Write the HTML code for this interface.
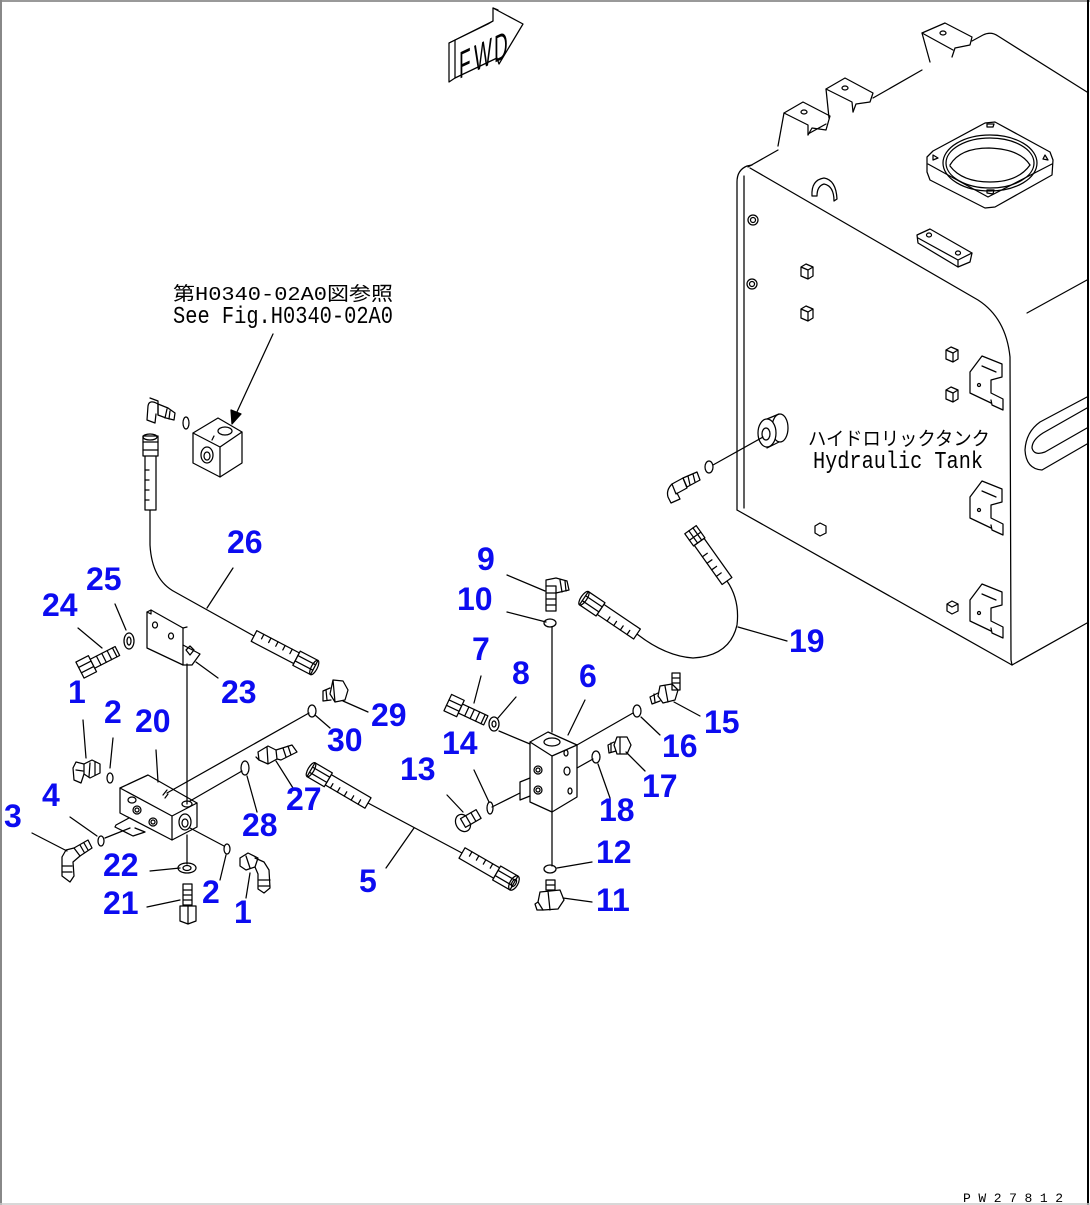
<!DOCTYPE html>
<html><head><meta charset="utf-8">
<style>
html,body{margin:0;padding:0;background:#fff;}
svg{display:block}
.l{fill:none;stroke:#000;stroke-width:1.25;stroke-linejoin:round;stroke-linecap:round}
.w{fill:#fff;stroke:#000;stroke-width:1.25;stroke-linejoin:round}
.n{font-family:"Liberation Sans",sans-serif;font-weight:bold;font-size:32px;fill:#0c0cf0}
.m{font-family:"Liberation Mono",monospace;font-size:20px;fill:#000}
.j{font-family:"Liberation Mono","Noto Sans CJK JP",monospace;font-size:19px;fill:#000}
.f{font-family:"Liberation Sans",sans-serif;font-size:38px;fill:#000}
</style></head><body>
<svg width="1090" height="1205" viewBox="0 0 1090 1205" xmlns="http://www.w3.org/2000/svg">
<rect width="1090" height="1205" fill="#fff"/>
<!-- borders -->
<line x1="0" y1="1" x2="1090" y2="1" stroke="#999" stroke-width="2"/>
<line x1="1" y1="0" x2="1" y2="1205" stroke="#888" stroke-width="2"/>
<line x1="1088" y1="0" x2="1088" y2="1205" stroke="#000" stroke-width="2"/>
<line x1="0" y1="1204" x2="1090" y2="1204" stroke="#ccc" stroke-width="1.5"/>

<!-- FWD arrow -->
<g class="l">
<path d="M455,40 L493,21 L493,8 L523,24 L499,64 L497,58 L455,78 Z"/>
<path d="M455,40 L449,43 L449,82 L455,78"/>
<path d="M449,43 L488,24 L493,21"/>
<path d="M493,8 L498,10"/>
</g>
<text class="f" transform="translate(459,79) skewY(-25) scale(0.5,1)">F</text>
<text class="f" transform="translate(474,72) skewY(-25) scale(0.5,1)">W</text>
<text class="f" transform="translate(494,63) skewY(-25) scale(0.5,1)">D</text>

<!-- TANK -->
<g class="l">
<path d="M737,510 L737,182 Q737,170 747,166 L752,165"/>
<line x1="744" y1="176" x2="744" y2="508"/>
<path d="M748,167 L778,150 M808,134 L826,124 M873,98 L922,70 M972,41 L983,35 Q991,31 998,36 L1087,92"/>
<path d="M750,168 L978,300 Q1006,318 1010,357 L1011,660 L1012,665"/>
<line x1="737" y1="510" x2="1012" y2="665"/>
<line x1="1012" y1="665" x2="1087" y2="623"/>
<line x1="1027" y1="313" x2="1087" y2="280"/>
<!-- handle -->
<path d="M1087,397 L1040,422 Q1026,432 1025,450 Q1026,469 1042,470 L1087,444"/>
<path d="M1087,408 L1043,433 Q1032,440 1032,448 Q1034,456 1045,452 L1087,428"/>
<!-- top brackets -->
<path d="M778,146 L784,113 L803,102 L830,116 L826,130 L812,128 L808,135"/>
<path d="M784,113 L808,125 L808,135"/>
<ellipse cx="804" cy="112" rx="3" ry="2"/>
<path d="M829,118 L826,89 L845,78 L873,93 L870,102 L856,104 L853,112"/>
<path d="M826,89 L852,102 L853,112"/>
<ellipse cx="845" cy="88" rx="3" ry="2"/>
<path d="M930,62 L922,33 L945,23 L972,37 L970,45 L955,48 L952,57"/>
<path d="M922,33 L953,50"/>
<ellipse cx="943" cy="33" rx="3" ry="2"/>
<!-- flange -->
<path d="M927,157 L933,151 L985,123 L995,122 L1050,152 L1053,160 L1052,175 L995,207 L985,208 L930,180 L927,172 Z"/>
<path d="M928,164 L988,197 L1052,164"/>
<ellipse cx="990" cy="163" rx="47" ry="28"/>
<ellipse cx="990" cy="163" rx="44" ry="25"/>
<path d="M950,165 Q960,148 989,148 Q1020,149 1030,165"/>
<path d="M950,166 Q962,182 990,182 Q1018,182 1030,165"/>
<path d="M933,155 L938,158 L933,160 Z M1045,155 L1048,160 L1043,159 Z M987,124 L994,124 L993,127 L987,127 Z M987,190 L994,190 L993,194 L987,193 Z"/>
<!-- bar -->
<path d="M917,235 L930,229 L972,253 L970,262 L958,267 L918,243 Z"/>
<path d="M918,238 L958,260 L972,253 M958,260 L958,267"/>
<ellipse cx="929" cy="235" rx="2.5" ry="2"/>
<ellipse cx="958" cy="253" rx="2.5" ry="2"/>
<!-- hook -->
<path d="M812,196 Q811,180 824,178 Q836,180 837,199 L834,201 Q834,186 824,184 Q817,186 817,196 Z"/>
<!-- bolts & nuts on face -->
<circle cx="753" cy="220" r="5"/><circle cx="753" cy="220" r="2.5"/>
<circle cx="752" cy="284" r="5"/><circle cx="752" cy="284" r="2.5"/>
<path d="M801,267 L806,264 L813,267 L813,276 L808,279 L801,276 Z M801,267 L808,270 L813,267 M808,270 L808,279"/>
<path d="M801,309 L806,306 L813,309 L813,318 L808,321 L801,318 Z M801,309 L808,312 L813,309 M808,312 L808,321"/>
<path d="M946,350 L951,347 L958,350 L958,359 L953,362 L946,359 Z M946,350 L953,353 L958,350 M953,353 L953,362"/>
<path d="M946,390 L951,387 L958,390 L958,399 L953,402 L946,399 Z M946,390 L953,393 L958,390 M953,393 L953,402"/>
<path d="M815,526 L820,523 L826,526 L826,533 L820,536 L815,533 Z"/>
<path d="M947,604 L952,601 L958,604 L958,611 L952,614 L947,611 Z M947,604 L952,607 L958,604"/>
<!-- side clips -->
<path d="M970,372 L982,356 L1002,364 L1002,377 L991,380 L991,393 L1003,399 L1003,410 L992,405 L991,400 M970,372 L970,393 L991,403"/>
<path d="M982,366 L996,372"/><circle cx="979" cy="385" r="1.5"/>
<path d="M970,497 L982,481 L1002,489 L1002,502 L991,505 L991,518 L1003,524 L1003,535 L992,530 L991,525 M970,497 L970,518 L991,528"/>
<path d="M982,491 L996,497"/><circle cx="979" cy="510" r="1.5"/>
<path d="M970,600 L982,584 L1002,592 L1002,605 L991,608 L991,621 L1003,627 L1003,638 L992,633 L991,628 M970,600 L970,621 L991,631"/>
<path d="M982,594 L996,600"/><circle cx="979" cy="613" r="1.5"/>
<!-- boss -->
<path d="M767,419 L779,414 M767,448 L779,442"/>
<ellipse cx="780" cy="428" rx="8" ry="14"/>
<ellipse class="w" cx="767" cy="433" rx="9" ry="14"/>
<ellipse cx="766" cy="434" rx="4" ry="6"/>
<line x1="763" y1="437" x2="713" y2="465"/>
<ellipse cx="709" cy="467" rx="4" ry="6"/>
<!-- tank elbow -->
<path d="M683,478 L697,472 L700,480 L687,487 Z M688,476 L690,485 M693,474 L695,482"/>
<path d="M672,484 L683,478 L687,488 L676,494 Z"/>
<path d="M672,484 Q666,490 668,497 L671,503 L680,499 L677,493"/>
</g>
<text class="j" x="808" y="445" textLength="182" lengthAdjust="spacingAndGlyphs">ハイドロリックタンク</text>
<text class="m" transform="translate(813,468) scale(1,1.2)" textLength="170" lengthAdjust="spacingAndGlyphs">Hydraulic Tank</text>

<!-- hose 19 -->
<g class="l">
<path d="M637,634 Q665,656 693,658 Q730,656 737,625 Q740,600 727,581"/>
<g transform="translate(727,581) rotate(234.6)">
<rect x="0" y="-6" width="48" height="12" fill="#fff"/><path d="M10,-6 L10,0 M18,-6 L18,0 M26,-6 L26,0 M34,-6 L34,0"/>
<rect x="48" y="-7" width="15" height="14" fill="#fff"/><path d="M48,-2 L63,-2 M48,3 L63,3 M55,-7 L55,7"/>
</g>
<g transform="translate(637,634) rotate(214)">
<rect x="0" y="-6" width="44" height="12" fill="#fff"/><path d="M8,-6 L8,-1 M16,-6 L16,-1 M24,-6 L24,-1 M32,-6 L32,-1"/>
<rect x="44" y="-8" width="20" height="16" fill="#fff"/><path d="M44,-3 L64,-3 M44,3 L64,3"/>
<ellipse cx="64" cy="0" rx="3" ry="8"/>
</g>
<line x1="738" y1="627" x2="787" y2="641"/>
</g>

<!-- see fig block -->
<g class="l">
<line x1="273" y1="334" x2="236" y2="414"/>
<path d="M232,424 L231,410 L241,414 Z" fill="#000"/>
<path d="M193,433 L218,418 L242,432 L242,463 L220,477 L193,463 Z"/>
<path d="M193,433 L220,447 L242,432 M220,447 L220,477"/>
<ellipse cx="225" cy="431" rx="7" ry="4"/>
<ellipse cx="207" cy="455" rx="6" ry="8"/><ellipse cx="207" cy="456" rx="3" ry="4"/>
<path d="M212,440 L214,436"/>
<ellipse cx="186" cy="423" rx="3" ry="6"/>
<path d="M158,404 L168,408 L175,413 L174,420 L166,418 L158,415 Z M167,409 L165,418 M170,411 L169,419"/>
<path d="M158,404 Q149,399 148,406 L147,420 L155,423 L156,414"/>
<path d="M150,398 L158,401 L158,415"/>
<!-- hose 26 -->
<path d="M150,510 L150,545 Q152,580 175,592 L254,636"/>
<rect x="145" y="455" width="11" height="55" fill="#fff"/>
<path d="M145,470 L149,470 M145,480 L149,480 M145,490 L149,490 M145,500 L149,500"/>
<rect x="143" y="436" width="15" height="20" fill="#fff"/>
<path d="M143,442 L158,442 M143,450 L158,450"/>
<ellipse cx="150" cy="437" rx="7" ry="3"/>
<g transform="translate(254,636) rotate(27.6)">
<rect x="0" y="-6" width="48" height="12" fill="#fff"/><path d="M8,-6 L8,-1 M16,-6 L16,-1 M24,-6 L24,-1 M32,-6 L32,-1 M40,-6 L40,-1"/>
<rect x="48" y="-8" width="20" height="16" fill="#fff"/><path d="M48,-3 L68,-3 M48,3 L68,3"/>
<ellipse cx="68" cy="0" rx="3" ry="8"/>
</g>
<line x1="233" y1="568" x2="207" y2="608"/>
</g>

<!-- LEFT ASSEMBLY -->
<g class="l">
<!-- bracket 23 -->
<path d="M147,612 L151,610 L183,628 L183,665 L147,648 Z"/>
<path d="M151,610 L151,614 L147,612 M183,628 L187,627"/>
<path d="M183,645 L200,654 L192,665 L183,665"/>
<path d="M186,650 L190,646 L194,650 L190,655 Z"/>
<ellipse cx="155" cy="625" rx="2.5" ry="3"/><ellipse cx="171" cy="636" rx="2.5" ry="3"/>
<!-- vertical line -->
<line x1="187" y1="664" x2="187" y2="804"/>
<line x1="187" y1="835" x2="187" y2="864"/>
<!-- block 20 -->
<path d="M120,788 L148,775 L197,803 L197,827 L172,840 L120,813 Z"/>
<path d="M120,788 L172,816 L197,803 M172,816 L172,840"/>
<ellipse cx="132" cy="800" rx="4" ry="3"/>
<circle cx="137" cy="810" r="4"/><circle cx="137" cy="810" r="2"/>
<circle cx="153" cy="822" r="4"/><circle cx="153" cy="822" r="2"/>
<ellipse cx="185" cy="822" rx="6" ry="8"/><ellipse cx="185" cy="823" rx="3" ry="4"/>
<ellipse cx="187" cy="804" rx="5" ry="3"/>
<path d="M163,795 L167,790 M165,798 L168,794"/>
<path d="M116,825 L129,818 M135,828 L145,832 L133,836 L115,827 L116,825"/>
<!-- connection lines -->
<line x1="167" y1="793" x2="309" y2="713"/>
<line x1="190" y1="801" x2="242" y2="771"/>
<line x1="190" y1="828" x2="224" y2="846"/>
<line x1="130" y1="828" x2="105" y2="838"/>
<!-- o-rings -->
<ellipse cx="312" cy="711" rx="4" ry="6"/>
<ellipse cx="245" cy="768" rx="4" ry="7"/>
<ellipse cx="227" cy="849" rx="3" ry="5"/>
<ellipse cx="101" cy="841" rx="3" ry="5"/>
<ellipse cx="110" cy="778" rx="3" ry="5"/>
<!-- washer 22 & bolt 21 -->
<ellipse cx="187" cy="868" rx="9" ry="5"/><ellipse cx="187" cy="868" rx="4" ry="2.5"/>
<path d="M183,884 L192,884 L192,905 L183,905 Z M183,890 L192,890 M183,895 L192,895 M183,900 L192,900"/>
<path d="M180,906 L196,906 L196,921 L188,924 L180,921 Z M188,906 L188,924"/>
<!-- bolt 24 -->
<g transform="translate(88,666) rotate(-27)">
<rect x="-9" y="-9" width="14" height="18" fill="#fff"/><path d="M-9,-3 L5,-3 M-9,3 L5,3"/>
<rect x="5" y="-5" width="28" height="10" fill="#fff"/><path d="M12,-5 L12,5 M18,-5 L18,5 M24,-5 L24,5 M30,-5 L30,5"/>
</g>
<ellipse cx="129" cy="641" rx="5" ry="8"/><ellipse cx="129" cy="641" rx="2" ry="4"/>
<!-- elbow 1 upper -->
<path d="M84,764 L92,760 L100,764 L100,773 L90,778 L84,774 Z M90,763 L89,777 M95,762 L95,775"/>
<path d="M84,764 L76,762 L73,768 L74,780 L81,783 L84,774"/>
<path d="M76,770 L83,771"/>
<!-- elbow 3 -->
<path d="M74,848 L88,840 L92,848 L80,856 Z M80,845 L84,852 M84,843 L88,850"/>
<path d="M74,848 L66,850 L62,857 L62,876 L70,882 L74,876 L73,862 L80,856"/>
<path d="M62,866 L72,866 M62,872 L72,872"/>
<!-- elbow 1 lower -->
<path d="M240,858 L248,853 L258,858 L255,867 L246,870 L240,866 Z M246,856 L250,868"/>
<path d="M255,858 L264,862 L269,870 L270,888 L264,893 L258,889 L258,874 L255,867"/>
<path d="M259,880 L270,880 M259,886 L270,886"/>
<!-- fitting 29 -->
<path d="M333,680 L343,681 L348,690 L345,700 L335,702 L330,694 Z M333,680 L335,702"/>
<path d="M330,688 L323,691 L323,701 L331,700"/>
<path d="M326,690 L327,700"/>
<!-- elbow 27 -->
<path d="M258,752 L268,746 L276,750 L277,759 L268,764 L259,760 Z M267,747 L268,763"/>
<path d="M276,750 L292,745 L297,752 L281,760 L277,759 M283,748 L286,757 M288,746 L291,755"/>
<path d="M259,760 L256,757"/>
<!-- hose 5 -->
<line x1="368" y1="803" x2="462" y2="853"/>
<g transform="translate(368,803) rotate(210.3)">
<rect x="0" y="-6" width="46" height="12" fill="#fff"/><path d="M8,-6 L8,-1 M16,-6 L16,-1 M24,-6 L24,-1 M32,-6 L32,-1 M40,-6 L40,-1"/>
<rect x="46" y="-8" width="20" height="16" fill="#fff"/><path d="M46,-3 L66,-3 M46,3 L66,3"/>
<ellipse cx="66" cy="0" rx="3" ry="8"/>
</g>
<g transform="translate(462,853) rotate(30)">
<rect x="0" y="-6" width="40" height="12" fill="#fff"/><path d="M8,-6 L8,-1 M16,-6 L16,-1 M24,-6 L24,-1 M32,-6 L32,-1"/>
<rect x="40" y="-8" width="20" height="16" fill="#fff"/><path d="M40,-3 L60,-3 M40,3 L60,3"/>
<ellipse cx="60" cy="0" rx="4" ry="8"/><ellipse cx="60" cy="0" rx="2" ry="4"/>
</g>
<!-- leaders left -->
<line x1="78" y1="628" x2="102" y2="648"/>
<line x1="115" y1="604" x2="126" y2="630"/>
<line x1="83" y1="720" x2="86" y2="758"/>
<line x1="113" y1="738" x2="110" y2="768"/>
<line x1="156" y1="750" x2="158" y2="782"/>
<line x1="218" y1="678" x2="196" y2="662"/>
<line x1="368" y1="712" x2="343" y2="701"/>
<line x1="330" y1="728" x2="315" y2="715"/>
<line x1="293" y1="788" x2="276" y2="761"/>
<line x1="257" y1="812" x2="247" y2="776"/>
<line x1="70" y1="817" x2="97" y2="836"/>
<line x1="32" y1="833" x2="67" y2="851"/>
<line x1="150" y1="871" x2="180" y2="868"/>
<line x1="147" y1="907" x2="180" y2="900"/>
<line x1="220" y1="880" x2="226" y2="855"/>
<line x1="246" y1="898" x2="250" y2="873"/>
<line x1="386" y1="868" x2="414" y2="828"/>
</g>

<!-- MIDDLE ASSEMBLY -->
<g class="l">
<line x1="552" y1="627" x2="552" y2="732"/>
<line x1="552" y1="812" x2="552" y2="866"/>
<path d="M530,742 L548,732 L577,745 L577,797 L552,812 L530,802 Z"/>
<path d="M530,742 L552,756 L577,745 M552,756 L552,812"/>
<ellipse cx="552" cy="742" rx="8" ry="4"/>
<circle cx="538" cy="770" r="4"/><circle cx="538" cy="770" r="2"/>
<circle cx="538" cy="790" r="4"/><circle cx="538" cy="790" r="2"/>
<ellipse cx="566" cy="753" rx="2" ry="3"/>
<ellipse cx="567" cy="771" rx="3" ry="4"/>
<ellipse cx="570" cy="791" rx="2" ry="3"/>
<path d="M530,778 L520,782 L520,800 L530,796"/>
<line x1="577" y1="745" x2="633" y2="713"/>
<line x1="577" y1="768" x2="593" y2="759"/>
<line x1="530" y1="744" x2="499" y2="731"/>
<line x1="492" y1="807" x2="520" y2="793"/>
<!-- o-rings -->
<ellipse cx="550" cy="623" rx="6" ry="4"/>
<ellipse cx="550" cy="869" rx="6" ry="4"/>
<ellipse cx="637" cy="711" rx="4" ry="6"/>
<ellipse cx="596" cy="757" rx="4" ry="6"/>
<ellipse cx="490" cy="808" rx="3" ry="6"/>
<ellipse cx="494" cy="724" rx="5" ry="7"/><ellipse cx="494" cy="724" rx="2" ry="3"/>
<!-- elbow 9 -->
<path d="M546,586 L556,586 L556,611 L546,611 Z M546,593 L556,593 M546,599 L556,599 M546,605 L556,605"/>
<path d="M546,586 L546,580 L556,578 L567,581 L569,590 L556,593"/>
<path d="M560,580 L562,592 M565,581 L566,591"/>
<!-- fitting 11 -->
<path d="M546,880 L555,880 L555,890 L546,890 Z M546,885 L555,885"/>
<path d="M540,892 L560,890 L564,900 L558,909 L543,910 L538,902 Z M548,891 L550,910"/>
<path d="M538,902 L535,904 L537,910 L543,910"/>
<!-- bolt 7 -->
<g transform="translate(455,706) rotate(25)">
<rect x="-8" y="-9" width="14" height="18" fill="#fff"/><path d="M-8,-3 L6,-3 M-8,3 L6,3"/>
<rect x="6" y="-5" width="28" height="10" fill="#fff"/><path d="M13,-5 L13,5 M19,-5 L19,5 M25,-5 L25,5 M31,-5 L31,5"/>
</g>
<!-- bolt 13 -->
<g transform="translate(463,823) rotate(-30)">
<ellipse cx="0" cy="0" rx="7" ry="9" fill="#fff"/>
<rect x="0" y="-5" width="18" height="10" fill="#fff"/><path d="M6,-5 L6,5 M12,-5 L12,5"/>
</g>
<!-- elbow 15 -->
<path d="M672,673 L680,673 L680,690 L672,690 Z M672,678 L680,678 M672,683 L680,683"/>
<path d="M660,686 L672,684 L678,690 L675,700 L663,703 L658,696 Z M665,686 L668,702"/>
<path d="M658,693 L650,697 L652,704 L660,701 M654,694 L655,702"/>
<!-- fitting 17 -->
<path d="M617,737 L627,737 L631,745 L627,754 L617,754 L614,745 Z M620,737 L620,754"/>
<path d="M614,742 L608,745 L609,753 L616,751 M611,743 L611,752"/>
<!-- leaders middle -->
<line x1="507" y1="575" x2="545" y2="591"/>
<line x1="507" y1="612" x2="546" y2="622"/>
<line x1="481" y1="676" x2="474" y2="703"/>
<line x1="516" y1="697" x2="498" y2="718"/>
<line x1="585" y1="700" x2="568" y2="735"/>
<line x1="474" y1="770" x2="489" y2="802"/>
<line x1="447" y1="795" x2="463" y2="812"/>
<line x1="700" y1="716" x2="674" y2="702"/>
<line x1="660" y1="735" x2="641" y2="717"/>
<line x1="645" y1="771" x2="626" y2="752"/>
<line x1="610" y1="798" x2="598" y2="764"/>
<line x1="592" y1="862" x2="557" y2="868"/>
<line x1="592" y1="902" x2="563" y2="898"/>
</g>

<!-- reference text -->
<text class="j" x="173" y="300" textLength="220" lengthAdjust="spacingAndGlyphs">第H0340-02A0図参照</text>
<text class="m" transform="translate(173,323) scale(1,1.2)" textLength="220" lengthAdjust="spacingAndGlyphs">See Fig.H0340-02A0</text>

<!-- labels -->
<g class="n">
<text x="227" y="553">26</text>
<text x="86" y="590">25</text>
<text x="42" y="616">24</text>
<text x="221" y="703">23</text>
<text x="68" y="703">1</text>
<text x="104" y="723">2</text>
<text x="135" y="732">20</text>
<text x="371" y="726">29</text>
<text x="327" y="751">30</text>
<text x="42" y="806">4</text>
<text x="4" y="827">3</text>
<text x="286" y="810">27</text>
<text x="242" y="836">28</text>
<text x="103" y="876">22</text>
<text x="103" y="914">21</text>
<text x="202" y="903">2</text>
<text x="234" y="923">1</text>
<text x="359" y="892">5</text>
<text x="477" y="570">9</text>
<text x="457" y="610">10</text>
<text x="472" y="660">7</text>
<text x="512" y="684">8</text>
<text x="579" y="687">6</text>
<text x="442" y="754">14</text>
<text x="400" y="780">13</text>
<text x="704" y="733">15</text>
<text x="662" y="757">16</text>
<text x="642" y="797">17</text>
<text x="599" y="821">18</text>
<text x="596" y="863">12</text>
<text x="596" y="911">11</text>
<text x="789" y="652">19</text>
</g>

<text x="963" y="1202" font-family="Liberation Mono,monospace" font-size="13" fill="#000" textLength="100" lengthAdjust="spacing">PW27812</text>
</svg>
</body></html>
